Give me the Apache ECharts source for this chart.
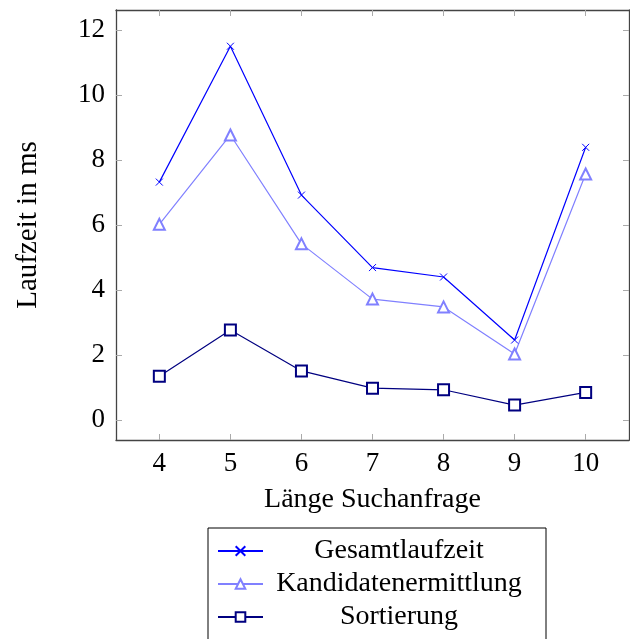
<!DOCTYPE html>
<html>
<head>
<meta charset="utf-8">
<script src="https://cdn.jsdelivr.net/npm/echarts@6/dist/echarts.min.js"></script>
<style>
  html, body { margin: 0; padding: 0; background: #fff; }
  #chart { width: 630px; height: 639px; }
</style>
</head>
<body>
<div id="chart"></div>
<script>
const queryLengths = [4, 5, 6, 7, 8, 9, 10];
const gesamtlaufzeit = [7.32, 11.5, 6.92, 4.69, 4.4, 2.46, 8.39];
const kandidatenermittlung = [6.02, 8.77, 5.42, 3.72, 3.48, 2.03, 7.57];
const sortierung = [1.35, 2.77, 1.51, 0.98, 0.93, 0.46, 0.85];
const yTicks = [0, 2, 4, 6, 8, 10, 12];

const serif = "'Liberation Serif', 'DejaVu Serif', serif";
const crossPath = "path://M0,0L10,10M0,10L10,0";

const pairs = (vals) => queryLengths.map((x, i) => [x, vals[i]]);

const chart = echarts.init(document.getElementById("chart"));

const tickStyle = { show: true, inside: true, length: 6, lineStyle: { color: "#aaa", width: 1 } };
const axisLine = { show: true, onZero: false, lineStyle: { color: "#444", width: 1.3 } };

chart.setOption({
  animation: false,
  grid: { left: 116, top: 10, right: 1, bottom: 199 },
  xAxis: [
    {
      type: "value",
      min: 3.39,
      max: 10.61,
      name: "Länge Suchanfrage",
      nameLocation: "middle",
      nameGap: 46,
      nameTextStyle: { fontFamily: serif, fontSize: 28, color: "#000" },
      axisLine: axisLine,
      axisTick: { ...tickStyle, customValues: queryLengths },
      axisLabel: {
        fontFamily: serif, fontSize: 27, color: "#000", margin: 10,
        customValues: queryLengths,
        formatter: (v) => String(v),
      },
      splitLine: { show: false },
    },
    {
      type: "value",
      position: "top",
      min: 3.39,
      max: 10.61,
      axisLine: axisLine,
      axisTick: { ...tickStyle, customValues: queryLengths },
      axisLabel: { show: false },
      splitLine: { show: false },
    },
  ],
  yAxis: [
    {
      type: "value",
      min: -0.615,
      max: 12.615,
      name: "Laufzeit in ms",
      nameLocation: "middle",
      nameGap: 73,
      nameTextStyle: { fontFamily: serif, fontSize: 29, color: "#000" },
      axisLine: axisLine,
      axisTick: { ...tickStyle, customValues: yTicks },
      axisLabel: {
        fontFamily: serif, fontSize: 27, color: "#000", margin: 11,
        customValues: yTicks,
        formatter: (v) => String(v),
      },
      splitLine: { show: false },
    },
    {
      type: "value",
      position: "right",
      min: -0.615,
      max: 12.615,
      axisLine: axisLine,
      axisTick: { ...tickStyle, customValues: yTicks },
      axisLabel: { show: false },
      splitLine: { show: false },
    },
  ],
  legend: {
    orient: "vertical",
    left: 208,
    top: 528,
    height: 130,
    padding: [9, 16, 30, 9],
    borderColor: "#000",
    borderWidth: 1,
    itemWidth: 45,
    itemHeight: 12,
    itemGap: 5,
    formatter: (name) => "{t|" + name + "}",
    textStyle: {
      fontFamily: serif,
      fontSize: 28,
      color: "#000",
      rich: { t: { width: 262, align: "center", fontFamily: serif, fontSize: 28, lineHeight: 30 } },
    },
    data: ["Gesamtlaufzeit", "Kandidatenermittlung", "Sortierung"],
  },
  series: [
    {
      name: "Gesamtlaufzeit",
      type: "line",
      data: pairs(gesamtlaufzeit),
      symbol: crossPath,
      symbolSize: 7,
      lineStyle: { color: "#0000ff", width: 1.2 },
      itemStyle: { color: "#0000ff", borderColor: "#0000ff", borderWidth: 1 },
      z: 3,
    },
    {
      name: "Kandidatenermittlung",
      type: "line",
      data: pairs(kandidatenermittlung),
      symbol: "emptyTriangle",
      symbolSize: 11,
      lineStyle: { color: "#8080ff", width: 1.2 },
      itemStyle: { color: "#8080ff", borderWidth: 1 },
      z: 2,
    },
    {
      name: "Sortierung",
      type: "line",
      data: pairs(sortierung),
      symbol: "emptyRect",
      symbolSize: 11,
      lineStyle: { color: "#000080", width: 1.2 },
      itemStyle: { color: "#000080", borderWidth: 1 },
      z: 2,
    },
  ],
});
</script>
</body>
</html>
